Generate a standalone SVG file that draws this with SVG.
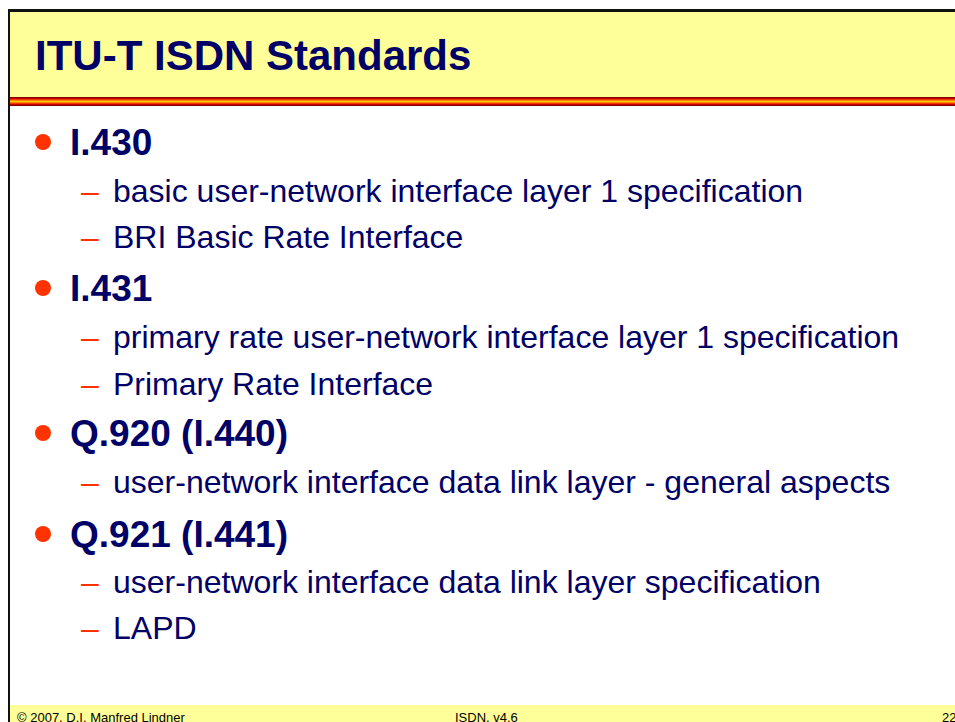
<svg xmlns="http://www.w3.org/2000/svg" width="955" height="722" viewBox="0 0 955 722">
<defs>
<linearGradient id="stripe" x1="0" y1="0" x2="0" y2="1">
<stop offset="0" stop-color="#660000"/>
<stop offset="0.18" stop-color="#CC0000"/>
<stop offset="0.35" stop-color="#FF6600"/>
<stop offset="0.5" stop-color="#FFCC00"/>
<stop offset="0.65" stop-color="#FF6600"/>
<stop offset="0.82" stop-color="#CC0000"/>
<stop offset="1" stop-color="#660000"/>
</linearGradient>
</defs>
<style>
.t{font-family:"Liberation Sans",Arial,sans-serif;fill:#000066}
.h{font-size:37px;font-weight:bold}
.s{font-size:32px}
.d{font-family:"Liberation Sans",Arial,sans-serif;font-size:32px;fill:#FF3300}
.dot{fill:#FF3300}
.f{font-family:"Liberation Sans",Arial,sans-serif;font-size:13px;fill:#000000}
</style>
<rect x="0" y="0" width="955" height="722" fill="#FFFFFF"/>
<g id="header">
<rect x="9" y="11" width="946" height="86" fill="#FFFF99"/>
<rect x="9" y="97" width="946" height="9" fill="url(#stripe)"/>
<line x1="8" y1="10.5" x2="955" y2="10.5" stroke="#111111" stroke-width="3"/>
<text class="t" x="35" y="70" style="font-size:42px;font-weight:bold">ITU-T ISDN Standards</text>
</g>
<g id="footer">
<rect x="9" y="705" width="946" height="17" fill="#FFFF99"/>
<text class="f" x="17" y="722">© 2007, D.I. Manfred Lindner</text>
<text class="f" x="455" y="722">ISDN, v4.6</text>
<text class="f" x="942" y="722">22</text>
</g>
<line x1="9" y1="10" x2="9" y2="722" stroke="#111111" stroke-width="2"/>
<g id="b1">
<circle class="dot" cx="43" cy="142" r="8"/>
<text class="t h" x="70" y="155">I.430</text>
<text class="d" x="81" y="202">–</text>
<text class="t s" x="113" y="202">basic user-network interface layer 1 specification</text>
<text class="d" x="81" y="248">–</text>
<text class="t s" x="113" y="248">BRI Basic Rate Interface</text>
</g>
<g id="b2">
<circle class="dot" cx="43" cy="288" r="8"/>
<text class="t h" x="70" y="301">I.431</text>
<text class="d" x="81" y="348">–</text>
<text class="t s" x="113" y="348">primary rate user-network interface layer 1 specification</text>
<text class="d" x="81" y="395">–</text>
<text class="t s" x="113" y="395">Primary Rate Interface</text>
</g>
<g id="b3">
<circle class="dot" cx="43" cy="433" r="8"/>
<text class="t h" x="70" y="446">Q.920 (I.440)</text>
<text class="d" x="81" y="493">–</text>
<text class="t s" x="113" y="493">user-network interface data link layer - general aspects</text>
</g>
<g id="b4">
<circle class="dot" cx="43" cy="534" r="8"/>
<text class="t h" x="70" y="547">Q.921 (I.441)</text>
<text class="d" x="81" y="593">–</text>
<text class="t s" x="113" y="593">user-network interface data link layer specification</text>
<text class="d" x="81" y="639">–</text>
<text class="t s" x="113" y="639">LAPD</text>
</g>
</svg>
